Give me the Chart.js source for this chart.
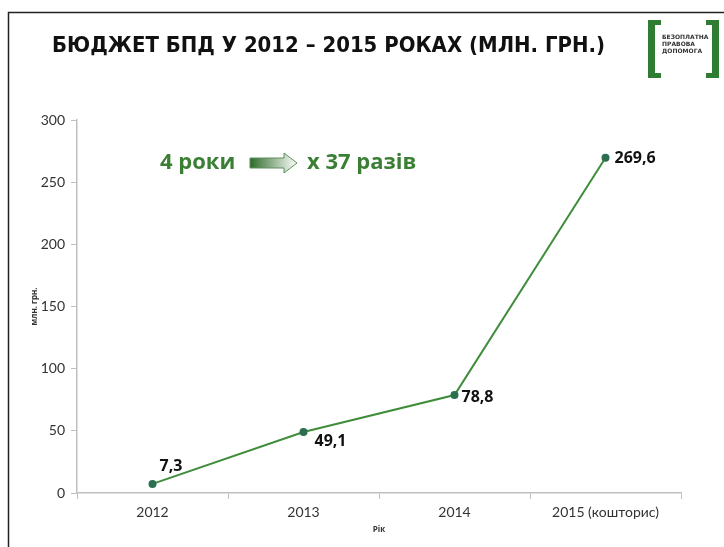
<!DOCTYPE html>
<html>
<head>
<meta charset="utf-8">
<script src="https://cdn.jsdelivr.net/npm/chart.js@4.4.1/dist/chart.umd.min.js"></script>
<style>
  html, body { margin: 0; padding: 0; background: #fff; }
  #wrap { width: 724px; height: 547px; position: relative; }
</style>
</head>
<body>
<div id="wrap"><canvas id="budget-chart" width="724" height="547"></canvas></div>
<script>
// Дані графіка
const years = ['2012', '2013', '2014', '2015 (кошторис)'];
const budget = [7.3, 49.1, 78.8, 269.6];
const yTicks = [0, 50, 100, 150, 200, 250, 300];

const titleText = 'БЮДЖЕТ БПД У 2012 – 2015 РОКАХ (МЛН. ГРН.)';
const noteLeft = '4 роки';
const noteRight = 'x 37 разів';
const logoLines = ['БЕЗОПЛАТНА', 'ПРАВОВА', 'ДОПОМОГА'];

// зсув підписів відносно точки [dx, dy]
const labelShift = [[7, -17], [11, 9], [7, 2], [9, 1]];

const green = '#3f8d3b';
const darkGreen = '#2b6f4f';
const textGreen = '#3b7f35';

// Рамка, заголовок, логотип, напис зі стрілкою
const decorations = {
    id: 'decorations',
    beforeDraw(chart) {
        const ctx = chart.ctx;
        ctx.save();
        ctx.fillStyle = '#fff';
        ctx.fillRect(0, 0, chart.width, chart.height);

        // рамка слайду
        ctx.strokeStyle = '#222';
        ctx.lineWidth = 1.5;
        ctx.beginPath();
        ctx.moveTo(8.5, chart.height);
        ctx.lineTo(8.5, 12.5);
        ctx.lineTo(chart.width, 12.5);
        ctx.stroke();

        // заголовок
        ctx.fillStyle = '#111';
        ctx.font = 'bold 22px "DejaVu Sans"';
        ctx.textBaseline = 'middle';
        const w = ctx.measureText(titleText).width;
        ctx.translate(52, 46);
        ctx.scale(553 / w, 1.0);
        ctx.fillText(titleText, 0, 0);
        ctx.restore();

        // логотип
        ctx.save();
        ctx.fillStyle = '#2f7d32';
        ctx.fillRect(648, 20, 7, 58);
        ctx.fillRect(648, 20, 13, 5);
        ctx.fillRect(648, 73, 13, 5);
        ctx.fillRect(712, 20, 7, 58);
        ctx.fillRect(706, 20, 13, 5);
        ctx.fillRect(706, 73, 13, 5);
        ctx.fillStyle = '#333';
        ctx.font = 'bold 6px "DejaVu Sans"';
        ctx.textBaseline = 'middle';
        logoLines.forEach((t, i) => ctx.fillText(t, 662, 37 + i * 7));
        ctx.restore();
    },
    afterDraw(chart) {
        const ctx = chart.ctx;
        ctx.save();
        ctx.fillStyle = textGreen;
        ctx.font = 'bold 22px "Open Sans"';
        ctx.textBaseline = 'middle';
        ctx.fillText(noteLeft, 160, 163);
        ctx.fillText(noteRight, 307, 163);

        // стрілка з градієнтом
        const grad = ctx.createLinearGradient(250, 0, 297, 0);
        grad.addColorStop(0, '#2e6b2a');
        grad.addColorStop(1, '#ffffff');
        ctx.beginPath();
        ctx.moveTo(250, 158);
        ctx.lineTo(284, 158);
        ctx.lineTo(284, 153);
        ctx.lineTo(297, 163);
        ctx.lineTo(284, 173);
        ctx.lineTo(284, 168);
        ctx.lineTo(250, 168);
        ctx.closePath();
        ctx.fillStyle = grad;
        ctx.fill();
        ctx.strokeStyle = '#5f8f5a';
        ctx.lineWidth = 1;
        ctx.stroke();
        ctx.restore();
    }
};

// Підписи значень біля точок
const valueLabels = {
    id: 'valueLabels',
    afterDatasetsDraw(chart) {
        const ctx = chart.ctx;
        const meta = chart.getDatasetMeta(0);
        ctx.save();
        ctx.fillStyle = '#111';
        ctx.font = 'bold 16px "Open Sans"';
        ctx.textBaseline = 'middle';
        meta.data.forEach((pt, i) => {
            const txt = budget[i].toFixed(1).replace('.', ',');
            ctx.fillText(txt, pt.x + labelShift[i][0], pt.y + labelShift[i][1]);
        });
        ctx.restore();
    }
};

const ctx = document.getElementById('budget-chart');
new Chart(ctx, {
    type: 'line',
    data: {
        labels: years,
        datasets: [{
            data: budget,
            borderColor: green,
            borderWidth: 2,
            pointRadius: 3,
            pointBackgroundColor: darkGreen,
            pointBorderColor: darkGreen,
            tension: 0
        }]
    },
    options: {
        responsive: false,
        animation: false,
        layout: { padding: { left: 25, top: 120, right: 43, bottom: 12 } },
        plugins: {
            legend: { display: false },
            tooltip: { enabled: false }
        },
        scales: {
            x: {
                offset: true,
                grid: {
                    offset: true,
                    drawOnChartArea: false,
                    tickLength: 6,
                    color: '#bfbfbf'
                },
                border: { color: '#bfbfbf', width: 1.5 },
                ticks: {
                    color: '#333',
                    font: { family: 'Lato', size: 14 },
                    padding: 5
                },
                title: {
                    display: true,
                    text: 'Рік',
                    color: '#333',
                    font: { family: 'Open Sans', size: 8, weight: 'bold' },
                    padding: 0
                },
                afterFit(scale) { scale.height = 42; }
            },
            y: {
                min: 0,
                max: 300,
                afterBuildTicks(scale) {
                    scale.ticks = yTicks.map(v => ({ value: v }));
                },
                grid: {
                    drawOnChartArea: false,
                    tickLength: 6,
                    color: '#bfbfbf'
                },
                border: { color: '#bfbfbf', width: 1.5 },
                ticks: {
                    color: '#333',
                    font: { family: 'Lato', size: 14 },
                    padding: 6
                },
                title: {
                    display: true,
                    text: 'млн. грн.',
                    color: '#333',
                    font: { family: 'Open Sans', size: 8, weight: 'bold' },
                    padding: 5
                },
                afterFit(scale) { scale.width = 52; }
            }
        }
    },
    plugins: [decorations, valueLabels]
});
</script>
</body>
</html>
